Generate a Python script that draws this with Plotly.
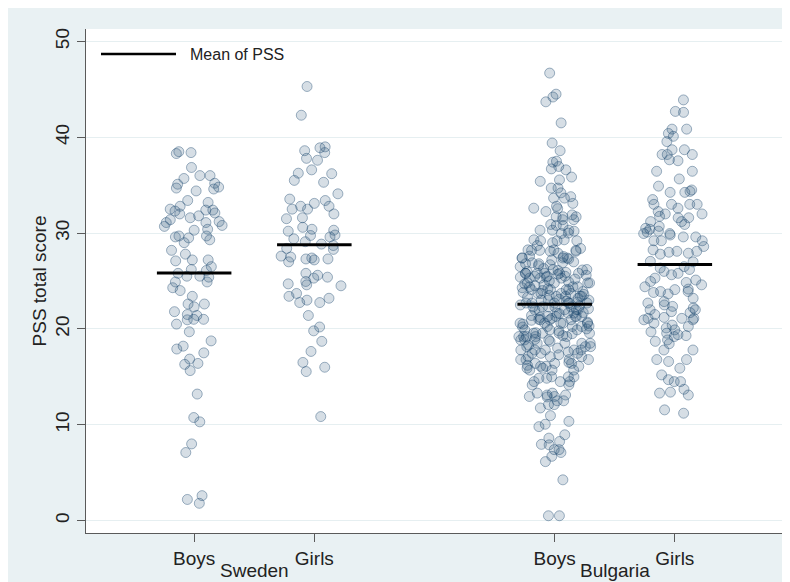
import numpy as np
import plotly.graph_objects as go

# ---------------- data (PSS total score per pupil) ----------------
groups = ["Boys", "Girls", "Boys", "Girls"]
countries = ["Sweden", "Bulgaria"]
group_pos = [1, 2, 4, 5]

sweden_boys = [38.5, 38.4, 38.3, 36.85, 36.0, 36.0, 35.7, 35.1, 35.2, 34.8,
               34.6, 34.7, 34.4, 33.4, 33.2, 32.8, 32.5, 32.4, 32.3, 32.4,
               32.1, 32.0, 31.8, 31.6, 31.4, 31.2, 31.1, 31.1, 30.8, 30.7,
               30.4, 30.3, 29.7, 29.7, 29.6, 29.3, 29.5, 29.0, 28.2, 27.8,
               27.2, 27.2, 27.1, 26.5, 26.2, 26.1, 25.8, 25.5, 25.4, 25.5,
               24.9, 24.9, 24.3, 24.0, 23.4, 22.6, 22.3, 22.6, 21.8, 21.4,
               21.5, 20.95, 21.0, 21.0, 20.5, 19.7, 18.75, 18.2, 17.9, 17.5,
               16.85, 16.4, 16.3, 15.65, 13.2, 10.75, 10.3, 8.0, 7.1, 2.6, 2.2, 1.8]

sweden_girls = [45.3, 42.3, 39.0, 38.9, 38.6, 38.4, 37.8, 37.6, 36.6, 36.25,
                36.2, 35.5, 35.3, 34.1, 33.55, 33.4, 33.1, 32.8, 32.8, 32.5,
                32.5, 32.0, 31.6, 31.5, 30.6, 30.4, 30.3, 30.2, 29.8, 29.75,
                29.6, 29.4, 29.1, 28.85, 28.7, 28.4, 28.3, 27.6, 27.4, 27.3,
                27.3, 27.2, 27.5, 27.0, 25.8, 25.6, 25.4, 25.3, 24.95, 24.7,
                24.6, 24.5, 23.7, 23.4, 23.2, 23.0, 22.75, 22.75, 21.4, 20.2,
                19.8, 18.7, 17.65, 16.5, 16.0, 15.55, 10.85]

bulgaria_boys = [46.7, 44.5, 44.2, 43.7, 41.5, 39.4, 38.6, 37.5, 37.4, 36.95,
                 36.7, 36.6, 35.85, 35.55, 35.4, 34.7, 34.7, 34.2, 33.8, 33.65,
                 33.65, 33.1, 32.8, 32.6, 32.55, 32.25, 31.9, 31.7, 31.7, 31.7,
                 31.4, 31.4, 30.9, 30.8, 30.8, 30.3, 30.3, 30.3, 30.2, 30.0,
                 29.95, 29.3, 29.3, 29.2, 29.2, 29.2, 28.25, 28.25, 28.2, 28.2,
                 28.2, 28.1, 28.1, 27.55, 27.4, 27.4, 27.4, 27.3, 27.0, 26.9,
                 26.8, 26.8, 26.6, 26.2, 26.2, 26.15, 26.1, 25.5, 25.5, 25.5, 25.4,
                 25.8, 25.8, 25.8, 25.8, 25.8, 25.8, 25.3, 25.3, 25.3,
                 24.8, 24.8, 24.8, 24.8, 24.4, 24.4, 24.4, 24.1, 24.1, 24.1,
                 23.7, 23.7, 23.7, 23.7, 23.4, 23.4, 23.4, 23.4, 23.0, 23.0, 23.0,
                 22.7, 22.7, 22.7, 22.7, 22.7, 22.3, 22.3, 22.3, 22.3,
                 22.0, 22.0, 22.0, 21.65, 21.65, 21.65, 21.3, 21.3, 21.3, 21.3,
                 20.95, 20.95, 20.95, 20.6, 20.6, 20.6, 20.6, 20.25, 20.25, 20.25,
                 19.9, 19.9, 19.9, 19.55, 19.55, 19.55, 19.55, 19.2, 19.2, 19.2, 19.2,
                 18.85, 18.85, 18.85, 18.5, 18.5, 18.5, 18.15, 18.15, 18.15,
                 17.8, 17.8, 17.8, 17.8, 17.45, 17.45, 17.45, 17.1, 17.1, 17.1,
                 16.8, 16.8, 16.8, 16.4, 16.4, 16.4, 16.1, 16.1, 16.1, 15.9, 15.9,
                 15.7, 15.7, 15.7,
                 29.0, 16.2, 28.7, 16.5, 28.4, 16.8, 27.9, 17.3, 27.6, 17.6,
                 27.2, 18.0, 26.9, 18.3, 26.5, 18.7, 26.3, 18.9, 26.0, 19.2,
                 25.7, 19.5, 25.6, 19.6, 25.2, 20.0, 25.0, 20.2, 24.9, 20.3,
                 24.6, 20.6, 24.5, 20.7, 24.2, 21.0, 24.0, 21.2, 23.9, 21.3,
                 23.6, 21.6, 23.5, 21.7, 23.2, 22.0, 23.1, 22.1, 22.9, 22.3,
                 22.8, 22.4, 25.9, 19.3, 25.4, 19.8, 24.7, 20.5, 24.3, 20.9,
                 23.8, 21.4, 23.3, 21.9, 22.7, 22.5, 26.7, 18.5, 27.4, 17.8,
                 24.1, 21.1,
                 15.0, 15.0, 15.0, 14.85, 14.85, 14.5, 14.5, 14.5, 14.15, 14.15,
                 13.3, 13.3, 13.1, 13.1, 12.95, 12.95, 12.9, 12.5, 12.5, 12.1,
                 12.1, 11.75, 10.95, 10.35, 10.05, 9.8, 8.95, 8.6, 8.25, 7.9,
                 7.95, 7.4, 7.4, 7.1, 6.7, 6.15, 4.25, 0.5, 0.5]

bulgaria_girls = [43.9, 42.7, 42.6, 40.85, 40.85, 40.4, 40.1, 39.55, 38.7, 38.7,
                  38.2, 38.2, 38.2, 37.65, 37.55, 36.45, 36.45, 35.65, 34.9, 34.5,
                  34.35, 34.25, 34.25, 33.5, 33.0, 33.0, 33.0, 33.0, 32.6, 32.25,
                  32.0, 32.0, 31.75, 31.6, 31.6, 31.2, 31.2, 30.9, 30.7, 30.5,
                  30.4, 30.2, 30.1, 29.95, 29.95, 29.8, 29.6, 29.6, 29.2, 29.2,
                  29.2, 28.6, 28.25, 28.1, 28.1, 28.0, 27.9, 27.8, 27.05, 27.0,
                  26.5, 26.2, 26.35, 26.0, 25.8, 25.65, 25.3, 25.1, 24.95, 24.85,
                  24.6, 24.4, 24.15, 24.1, 23.9, 23.9, 23.8, 23.65, 23.2, 22.85,
                  22.7, 22.5, 22.35, 22.2, 22.0, 22.0, 21.8, 21.7, 21.5, 21.2,
                  21.1, 21.1, 21.1, 20.95, 20.95, 20.6, 20.4, 20.25, 20.1, 19.9,
                  19.7, 19.55, 19.4, 19.3, 19.2, 18.85, 18.7, 18.45, 17.8, 17.8,
                  16.8, 16.8, 16.6, 15.9, 15.2, 14.5, 14.5, 14.7, 13.7, 13.4,
                  13.3, 13.1, 11.55, 11.2]

series = [sweden_boys, sweden_girls, bulgaria_boys, bulgaria_girls]
y_ticks = [0, 10, 20, 30, 40, 50]

# ---------------- styling ----------------
FONT = "Liberation Sans, Arial, sans-serif"
TXT = "#222222"
BG = "#e9f1f3"
AXC = "#5a5a5a"
MARK_FILL = "rgba(26,71,111,0.18)"
MARK_LINE = "rgba(26,71,111,0.40)"
HALF = 0.31  # half length of the mean bars (x units)

fig = go.Figure()

for pos, vals in zip(group_pos, series):
    fig.add_trace(go.Box(
        y=vals, x0=pos, boxpoints="all", jitter=1.0, pointpos=0, width=0.6,
        fillcolor="rgba(0,0,0,0)", line=dict(color="rgba(0,0,0,0)", width=0),
        marker=dict(size=10, color=MARK_FILL, line=dict(color=MARK_LINE, width=1)),
        hoverinfo="skip", showlegend=False,
    ))

for pos, vals in zip(group_pos, series):
    m = float(np.mean(vals))
    fig.add_trace(go.Scatter(
        x=[pos - HALF, pos + HALF], y=[m, m], mode="lines",
        line=dict(color="black", width=3), hoverinfo="skip", showlegend=False,
    ))

# The page body adds an 8px offset; the figure fills the rest of the window.
OFF = 8
W, H = 790 - OFF, 582 - OFF
L, T = 86 - OFF, 29 - OFF
R, B = W - (783 - OFF), H - (533 - OFF)
pw, ph = W - L - R, H - T - B

def px_x(p):
    return (p - OFF - L) / pw

def px_y(p):
    return 1 - (p - OFF - T) / ph

shapes = [
    dict(type="line", xref="paper", yref="paper", x0=px_x(101), x1=px_x(176),
         y0=px_y(54), y1=px_y(54), line=dict(color="black", width=2.5)),
]

annotations = [
    dict(text="Mean of PSS", xref="paper", yref="paper", x=px_x(188), y=px_y(54),
         xanchor="left", yanchor="middle", showarrow=False,
         font=dict(family=FONT, size=16, color=TXT)),
    dict(text=countries[0], xref="x", yref="paper", x=(group_pos[0] + group_pos[1]) / 2,
         y=px_y(570), xanchor="center", yanchor="middle", showarrow=False,
         font=dict(family=FONT, size=19, color=TXT)),
    dict(text=countries[1], xref="x", yref="paper", x=(group_pos[2] + group_pos[3]) / 2,
         y=px_y(570), xanchor="center", yanchor="middle", showarrow=False,
         font=dict(family=FONT, size=19, color=TXT)),
]

fig.update_layout(
    width=W, height=H,
    margin=dict(l=L, r=R, t=T, b=B, pad=0),
    paper_bgcolor=BG, plot_bgcolor="white",
    font=dict(family=FONT, color=TXT),
    showlegend=False,
    shapes=shapes, annotations=annotations,
    xaxis=dict(
        range=[0.1, 5.9], tickmode="array", tickvals=group_pos, ticktext=groups,
        showgrid=False, zeroline=False, showline=True, linecolor=AXC, linewidth=1,
        ticks="outside", ticklen=8, tickcolor=AXC,
        tickfont=dict(family=FONT, size=19, color=TXT),
    ),
    yaxis=dict(
        range=[-1.3, 51.3], tickmode="array", tickvals=y_ticks,
        showgrid=True, gridcolor="#e6eff1", gridwidth=1, zeroline=False,
        showline=True, linecolor=AXC, linewidth=1,
        ticks="outside", ticklen=8, tickcolor=AXC, tickangle=-90,
        tickfont=dict(family=FONT, size=19, color=TXT),
        title=dict(text="PSS total score", font=dict(family=FONT, size=19, color=TXT), standoff=0),
    ),
)

fig.write_html("out.html")
